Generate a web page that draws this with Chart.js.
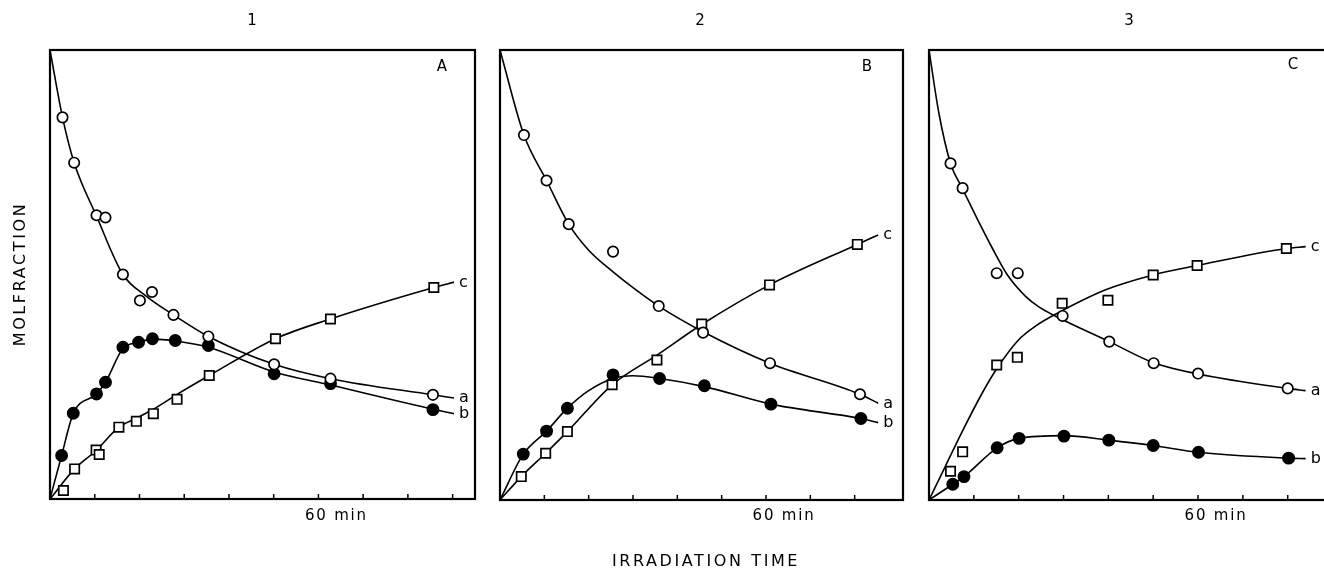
<!DOCTYPE html>
<html>
<head>
<meta charset="utf-8">
<script src="https://cdn.jsdelivr.net/npm/chart.js@4.4.1/dist/chart.umd.min.js"></script>
<style>
    html, body { margin: 0; padding: 0; background: #fff; overflow: hidden; width: 1324px; height: 570px; }
    canvas { position: absolute; top: 0; }
</style>
</head>
<body>
<canvas id="panel1" width="490" height="570" style="left:0px"></canvas>
<canvas id="panel2" width="430" height="570" style="left:490px"></canvas>
<canvas id="panel3" width="430" height="570" style="left:920px"></canvas>
<script>
// time in min, molfraction 0..1

// panel 1 / A - measured points
const p1TimeA = [2.8, 5.4, 10.4, 12.4, 16.3, 20.1, 22.8, 27.6, 35.4, 50.1, 62.7, 85.6];
const p1ValA  = [0.850, 0.749, 0.632, 0.627, 0.500, 0.442, 0.461, 0.410, 0.362, 0.300, 0.268, 0.232];
const p1TimeB = [2.6, 5.2, 10.4, 12.4, 16.3, 19.8, 22.9, 28.0, 35.4, 50.1, 62.7, 85.6];
const p1ValB  = [0.097, 0.191, 0.234, 0.260, 0.338, 0.349, 0.357, 0.353, 0.342, 0.279, 0.257, 0.199];
const p1TimeC = [3.0, 5.5, 10.3, 11.0, 15.4, 19.3, 23.1, 28.4, 35.6, 50.4, 62.7, 85.8];
const p1ValC  = [0.019, 0.067, 0.109, 0.099, 0.160, 0.173, 0.190, 0.222, 0.275, 0.357, 0.401, 0.471];
// panel 1 - drawn curves
const p1CurveTimeA = [0, 2.8, 5.4, 10.4, 16.3, 21.5, 27.6, 35.4, 50.1, 62.7, 85.6, 90.3];
const p1CurveA     = [1.0, 0.85, 0.749, 0.63, 0.50, 0.452, 0.41, 0.362, 0.30, 0.268, 0.232, 0.225];
const p1CurveTimeB = [0, 2.6, 5.2, 10.4, 12.4, 16.3, 19.8, 22.9, 28.0, 35.4, 50.1, 62.7, 85.6, 90.3];
const p1CurveB     = [0, 0.097, 0.19, 0.234, 0.26, 0.335, 0.349, 0.356, 0.352, 0.338, 0.283, 0.254, 0.2, 0.19];
const p1CurveTimeC = [0, 5.5, 10.3, 15.4, 19.3, 23.1, 28.4, 35.6, 50.4, 62.7, 85.8, 90.3];
const p1CurveC     = [0, 0.067, 0.108, 0.16, 0.18, 0.2, 0.233, 0.275, 0.357, 0.401, 0.471, 0.483];

// panel 2 / B
const p2TimeA = [5.4, 10.5, 15.5, 25.5, 35.8, 45.8, 60.9, 81.2];
const p2ValA  = [0.811, 0.710, 0.613, 0.552, 0.431, 0.372, 0.304, 0.235];
const p2TimeB = [5.25, 10.5, 15.2, 25.5, 36.0, 46.1, 61.1, 81.4];
const p2ValB  = [0.102, 0.153, 0.204, 0.278, 0.270, 0.254, 0.213, 0.181];
const p2TimeC = [4.8, 10.3, 15.2, 25.3, 35.4, 45.5, 60.8, 80.6];
const p2ValC  = [0.052, 0.104, 0.152, 0.256, 0.311, 0.391, 0.478, 0.568];
const p2CurveTimeA = [0, 5.4, 10.5, 15.5, 20, 25.5, 30, 35.8, 45.8, 60.9, 81.2, 85.3];
const p2CurveA     = [1.0, 0.811, 0.71, 0.613, 0.555, 0.507, 0.472, 0.431, 0.374, 0.304, 0.235, 0.215];
const p2CurveTimeB = [0, 5.25, 10.5, 15.2, 20, 25.5, 30, 36, 46.1, 61.1, 81.4, 85.3];
const p2CurveB     = [0, 0.102, 0.153, 0.204, 0.243, 0.27, 0.276, 0.27, 0.252, 0.213, 0.181, 0.172];
const p2CurveTimeC = [0, 4.8, 10.3, 15.2, 25.3, 35.4, 45.5, 60.8, 80.6, 85.3];
const p2CurveC     = [0, 0.052, 0.104, 0.152, 0.256, 0.322, 0.39, 0.478, 0.568, 0.589];

// panel 3 / C
const p3TimeA = [4.8, 7.5, 15.1, 19.8, 29.8, 40.2, 50.1, 60.0, 80.0];
const p3ValA  = [0.748, 0.693, 0.504, 0.504, 0.409, 0.352, 0.304, 0.281, 0.248];
const p3TimeB = [5.3, 7.8, 15.2, 20.1, 30.1, 40.1, 50.0, 60.1, 80.2];
const p3ValB  = [0.035, 0.052, 0.116, 0.137, 0.142, 0.133, 0.121, 0.106, 0.093];
const p3TimeC = [4.8, 7.5, 15.1, 19.7, 29.7, 39.9, 50.0, 59.8, 79.7];
const p3ValC  = [0.064, 0.107, 0.300, 0.317, 0.437, 0.444, 0.500, 0.521, 0.559];
const p3CurveTimeA = [0, 2.2, 4.8, 7.4, 10.4, 14.1, 17.5, 21.6, 24.5, 27.9, 40.2, 50.1, 60, 80, 84];
const p3CurveA     = [1.0, 0.86, 0.748, 0.693, 0.632, 0.56, 0.50, 0.452, 0.429, 0.41, 0.352, 0.305, 0.28, 0.248, 0.243];
const p3CurveTimeB = [0, 5.3, 7.8, 15.2, 20.1, 30.1, 40.1, 50, 60.1, 80.2, 84];
const p3CurveB     = [0, 0.035, 0.052, 0.116, 0.137, 0.143, 0.133, 0.121, 0.106, 0.093, 0.092];
const p3CurveTimeC = [0, 3.7, 7.6, 12, 15.0, 19.9, 24, 27.9, 39.4, 50, 59.8, 79.7, 84];
const p3CurveC     = [0, 0.076, 0.156, 0.24, 0.29, 0.355, 0.388, 0.411, 0.467, 0.5, 0.521, 0.559, 0.563];

const FONT = '"DejaVu Sans", sans-serif';

function pts(ts, vs) {
    return ts.map((t, i) => ({ x: t, y: vs[i] }));
}

function markerSet(ts, vs, kind) {
    const filled = kind === 'b';
    return {
        data: pts(ts, vs),
        showLine: false,
        order: 0,
        pointStyle: kind === 'c' ? 'rect' : 'circle',
        pointRadius: kind === 'c' ? 6.6 : (filled ? 5.6 : 5.2),
        pointBackgroundColor: filled ? '#000' : '#fff',
        pointBorderColor: '#000',
        pointBorderWidth: 1.7
    };
}

function curveSet(ts, vs, label) {
    return {
        data: pts(ts, vs),
        endLabel: label,
        order: 1,
        borderColor: '#000',
        borderWidth: 1.6,
        pointRadius: 0,
        fill: false,
        cubicInterpolationMode: 'monotone'
    };
}

// frame, inner tick marks and all the lettering
const decoPlugin = {
    id: 'deco',
    afterDatasetsDraw(chart, args, opts) {
        const { ctx, chartArea: area } = chart;
        const xs = chart.scales.x;
        ctx.save();
        ctx.strokeStyle = '#000';
        ctx.lineWidth = 2.2;
        ctx.strokeRect(area.left, area.top, area.right - area.left, area.bottom - area.top);
        ctx.lineWidth = 1.5;
        ctx.beginPath();
        for (let v = 10; v < xs.max - 2; v += 10) {
            const px = xs.getPixelForValue(v);
            ctx.moveTo(px, area.bottom);
            ctx.lineTo(px, area.bottom - 5);
        }
        ctx.stroke();
        ctx.restore();
    },
    afterDraw(chart, args, opts) {
        const { ctx, chartArea: area } = chart;
        const xs = chart.scales.x, ys = chart.scales.y;
        ctx.save();
        ctx.fillStyle = '#000';
        ctx.textAlign = 'center';
        ctx.textBaseline = 'middle';

        ctx.font = '15px ' + FONT;
        ctx.fillText(opts.number, opts.numberX, 21);

        ctx.fillText(opts.letter, area.right - opts.letterInset, opts.letterY);

        ctx.letterSpacing = '1.8px';
        ctx.fillText('60 min', xs.getPixelForValue(60) + 18, 516);
        ctx.letterSpacing = '0px';

        // a / b / c at the end of each curve
        ctx.font = '16px ' + FONT;
        ctx.textAlign = 'left';
        ctx.textBaseline = 'alphabetic';
        chart.data.datasets.forEach(ds => {
            if (!ds.endLabel) return;
            const last = ds.data[ds.data.length - 1];
            ctx.fillText(ds.endLabel, xs.getPixelForValue(last.x) + 5, ys.getPixelForValue(last.y) + 4.5);
        });

        ctx.textBaseline = 'middle';
        ctx.textAlign = 'center';
        ctx.letterSpacing = '2.6px';
        if (opts.yTitle) {
            ctx.save();
            ctx.translate(opts.yTitle.x, opts.yTitle.y);
            ctx.rotate(-Math.PI / 2);
            ctx.fillText(opts.yTitle.text, 0, 0);
            ctx.restore();
        }
        if (opts.xTitle) {
            ctx.fillText(opts.xTitle.text, opts.xTitle.x, opts.xTitle.y);
        }
        ctx.restore();
    }
};

function makePanel(id, s) {
    return new Chart(document.getElementById(id), {
        type: 'line',
        data: {
            datasets: [
                markerSet(s.tA, s.vA, 'a'),
                markerSet(s.tB, s.vB, 'b'),
                markerSet(s.tC, s.vC, 'c'),
                curveSet(s.ctA, s.cA, 'a'),
                curveSet(s.ctB, s.cB, 'b'),
                curveSet(s.ctC, s.cC, 'c')
            ]
        },
        options: {
            responsive: false,
            animation: false,
            layout: { padding: s.pad },
            scales: {
                x: { type: 'linear', display: false, min: 0, max: s.xMax },
                y: { type: 'linear', display: false, min: 0, max: 1 }
            },
            plugins: {
                legend: { display: false },
                tooltip: { enabled: false },
                deco: s.deco
            }
        },
        plugins: [decoPlugin]
    });
}

makePanel('panel1', {
    tA: p1TimeA, vA: p1ValA, tB: p1TimeB, vB: p1ValB, tC: p1TimeC, vC: p1ValC,
    ctA: p1CurveTimeA, cA: p1CurveA, ctB: p1CurveTimeB, cB: p1CurveB, ctC: p1CurveTimeC, cC: p1CurveC,
    xMax: 95,
    pad: { left: 50, right: 15, top: 50, bottom: 71 },
    deco: { number: '1', numberX: 252, letter: 'A', letterInset: 33, letterY: 67,
            yTitle: { text: 'MOLFRACTION', x: 21, y: 274 } }
});

makePanel('panel2', {
    tA: p2TimeA, vA: p2ValA, tB: p2TimeB, vB: p2ValB, tC: p2TimeC, vC: p2ValC,
    ctA: p2CurveTimeA, cA: p2CurveA, ctB: p2CurveTimeB, cB: p2CurveB, ctC: p2CurveTimeC, cC: p2CurveC,
    xMax: 90.9,
    pad: { left: 10, right: 17, top: 50, bottom: 70 },
    deco: { number: '2', numberX: 210, letter: 'B', letterInset: 36, letterY: 67,
            xTitle: { text: 'IRRADIATION TIME', x: 216, y: 562 } }
});

makePanel('panel3', {
    tA: p3TimeA, vA: p3ValA, tB: p3TimeB, vB: p3ValB, tC: p3TimeC, vC: p3ValC,
    ctA: p3CurveTimeA, cA: p3CurveA, ctB: p3CurveTimeB, cB: p3CurveB, ctC: p3CurveTimeC, cC: p3CurveC,
    xMax: 90.1,
    pad: { left: 9, right: 17, top: 50, bottom: 70 },
    deco: { number: '3', numberX: 209, letter: 'C', letterInset: 40, letterY: 65 }
});
</script>
</body>
</html>
